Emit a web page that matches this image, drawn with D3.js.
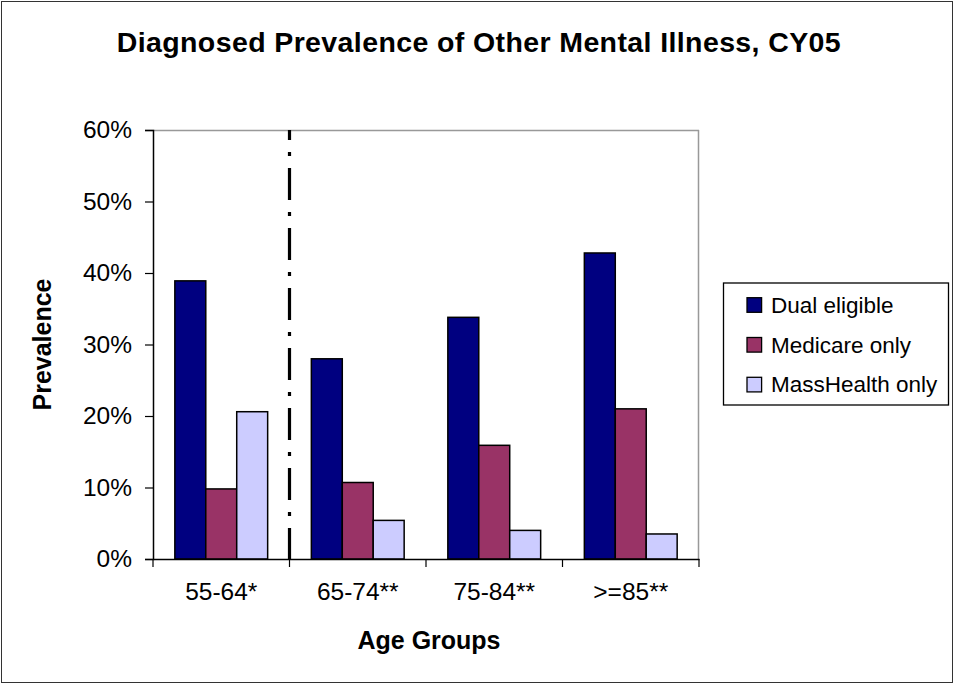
<!DOCTYPE html>
<html>
<head>
<meta charset="utf-8">
<script src="https://cdn.jsdelivr.net/npm/d3@7"></script>
<style>
  html, body { margin: 0; padding: 0; background: #fff; }
  svg { display: block; }
  text { font-family: "Liberation Sans", Arial, sans-serif; fill: #000; }
</style>
</head>
<body>
<svg id="chart" width="954" height="684"></svg>
<script>
// ---- data ----
const categories = ["55-64*", "65-74**", "75-84**", ">=85**"];
const seriesNames = ["Dual eligible", "Medicare only", "MassHealth only"];
const dualEligible = [38.9, 28.0, 33.8, 42.8];
const medicareOnly = [9.8, 10.7, 15.9, 21.0];
const massHealthOnly = [20.6, 5.4, 4.0, 3.5];
const yTicks = [0, 10, 20, 30, 40, 50, 60];
const dividerAfter = ["55-64*"];   // dash-dot divider after this category
const titleText = "Diagnosed Prevalence of Other Mental Illness, CY05";
const xTitle = "Age Groups";
const yTitle = "Prevalence";

const seriesValues = [dualEligible, medicareOnly, massHealthOnly];
const colors = ["#000080", "#993366", "#CCCCFF"];

const svg = d3.select("#chart");
const W = 954, H = 684;

// outer frame
svg.append("rect").attr("x", 1.5).attr("y", 1.5).attr("width", W - 3).attr("height", H - 3)
  .attr("fill", "#fff").attr("stroke", "#333").attr("stroke-width", 1);

const plot = { left: 153, right: 699, top: 130, bottom: 559 };

const x0 = d3.scaleBand().domain(categories).range([plot.left, plot.right]).paddingInner(0).paddingOuter(0);
const pad = x0.step() * 0.16;
const x1 = d3.scaleBand().domain(seriesNames).range([pad, x0.bandwidth() - pad]).padding(0);
const y = d3.scaleLinear().domain([0, 60]).range([plot.bottom, plot.top]);

// plot border (top & right gray)
svg.append("line").attr("x1", plot.left).attr("x2", plot.right).attr("y1", plot.top + 0.5).attr("y2", plot.top + 0.5)
  .attr("stroke", "#999").attr("stroke-width", 1.5);
svg.append("line").attr("x1", plot.right - 0.5).attr("x2", plot.right - 0.5).attr("y1", plot.top).attr("y2", plot.bottom)
  .attr("stroke", "#999").attr("stroke-width", 1.5);

// bars
const rows = categories.map((c, i) => ({ cat: c, vals: seriesNames.map((s, j) => ({ s, v: seriesValues[j][i], j })) }));
const g = svg.append("g").selectAll("g").data(rows).join("g")
  .attr("transform", d => `translate(${x0(d.cat)},0)`);
g.selectAll("rect").data(d => d.vals).join("rect")
  .attr("x", d => x1(d.s))
  .attr("y", d => y(d.v))
  .attr("width", x1.bandwidth())
  .attr("height", d => y(0) - y(d.v))
  .attr("fill", d => colors[d.j])
  .attr("stroke", "#000").attr("stroke-width", 1.5);

// divider line
dividerAfter.forEach(c => {
  const xd = x0(c) + x0.step();
  svg.append("line").attr("x1", xd).attr("x2", xd).attr("y1", plot.top).attr("y2", plot.bottom)
    .attr("stroke", "#000").attr("stroke-width", 3.2)
    .attr("stroke-dasharray", "32,12,4,12").attr("stroke-dashoffset", 22);
});

// y axis
const yAxis = d3.axisLeft(y).tickValues(yTicks).tickFormat(d => d + "%").tickSize(8).tickPadding(13);
const ya = svg.append("g").attr("transform", `translate(${plot.left},0)`).call(yAxis);
ya.select(".domain").attr("stroke", "#000").attr("stroke-width", 1.5);
ya.selectAll(".tick line").attr("stroke", "#000").attr("stroke-width", 1.2);
ya.selectAll(".tick text").attr("font-size", 24.5).attr("font-family", "Liberation Sans, Arial, sans-serif").attr("fill", "#000");

// x axis
const xAxis = d3.axisBottom(x0).tickSize(0).tickPadding(24);
const xa = svg.append("g").attr("transform", `translate(0,${plot.bottom})`).call(xAxis);
xa.select(".domain").attr("stroke", "#000").attr("stroke-width", 1.5);
xa.selectAll(".tick text").attr("font-size", 24.5).attr("font-family", "Liberation Sans, Arial, sans-serif").attr("fill", "#000");
// boundary ticks
const bounds = categories.map(c => x0(c)).concat([plot.right]);
svg.append("g").selectAll("line").data(bounds).join("line")
  .attr("x1", d => d).attr("x2", d => d).attr("y1", plot.bottom).attr("y2", plot.bottom + 8)
  .attr("stroke", "#000").attr("stroke-width", 1.2);

// titles
svg.append("text").attr("x", 478.7).attr("y", 51.5).attr("text-anchor", "middle")
  .attr("font-size", 28.5).attr("font-weight", "bold")
  .attr("textLength", 724).attr("lengthAdjust", "spacing")
  .text(titleText);
svg.append("text").attr("x", (plot.left + plot.right) / 2 + 3).attr("y", 649).attr("text-anchor", "middle")
  .attr("font-size", 25).attr("font-weight", "bold").text(xTitle);
svg.append("text").attr("transform", `translate(51,${(plot.top + plot.bottom) / 2}) rotate(-90)`)
  .attr("text-anchor", "middle").attr("font-size", 25).attr("font-weight", "bold").text(yTitle);

// legend
const leg = svg.append("g");
leg.append("rect").attr("x", 723.5).attr("y", 283).attr("width", 225).attr("height", 122)
  .attr("fill", "#fff").attr("stroke", "#000").attr("stroke-width", 1.3);
const li = leg.selectAll("g.item").data(seriesNames).join("g").attr("class", "item")
  .attr("transform", (d, i) => `translate(747,${305 + i * 39.8})`);
li.append("rect").attr("x", 0).attr("y", -7.3).attr("width", 14.6).attr("height", 14.6)
  .attr("fill", (d, i) => colors[i]).attr("stroke", "#000").attr("stroke-width", 1.3);
li.append("text").attr("x", 24).attr("y", 7.8).attr("font-size", 22.5).text(d => d);
</script>
</body>
</html>
